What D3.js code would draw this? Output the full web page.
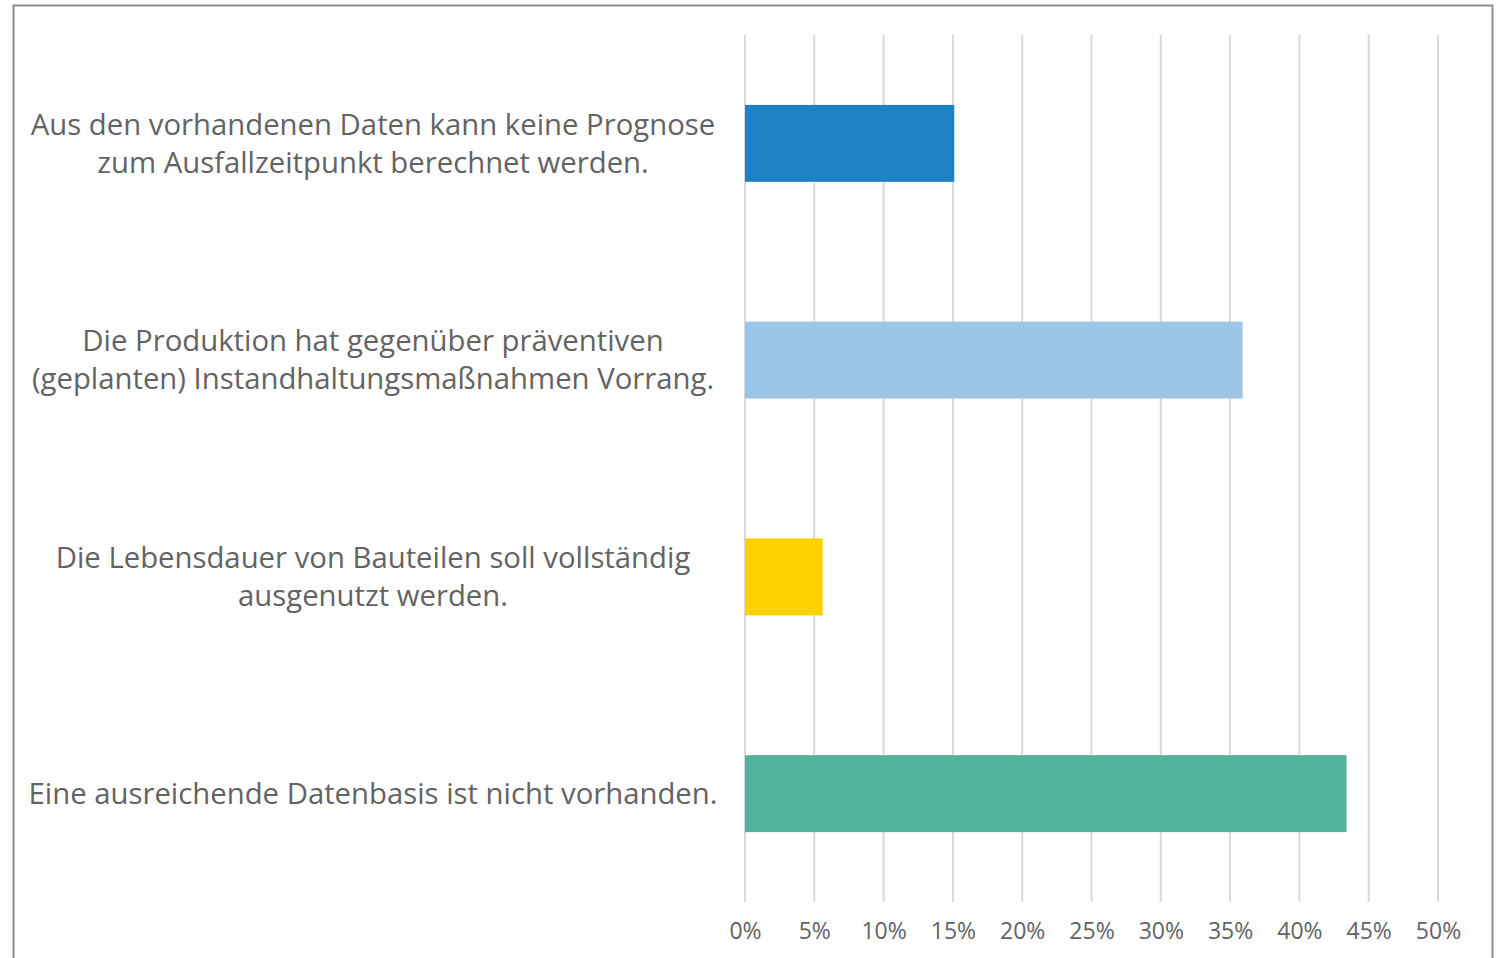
<!DOCTYPE html>
<html>
<head>
<meta charset="utf-8">
<script src="https://cdn.jsdelivr.net/npm/d3@7"></script>
<style>
  body { margin: 0; background: #fff; }
  svg { display: block; }
</style>
</head>
<body>
<div id="chart"></div>
<script>
// Chart data
const categories = [
  ['Aus den vorhandenen Daten kann keine Prognose', 'zum Ausfallzeitpunkt berechnet werden.'],
  ['Die Produktion hat gegenüber präventiven', '(geplanten) Instandhaltungsmaßnahmen Vorrang.'],
  ['Die Lebensdauer von Bauteilen soll vollständig', 'ausgenutzt werden.'],
  ['Eine ausreichende Datenbasis ist nicht vorhanden.']
];
const values = [15.1, 35.9, 5.6, 43.4];
const barColors = ['#1f81c5', '#9dc6e6', '#fed100', '#52b29a'];
const tickValues = [0, 5, 10, 15, 20, 25, 30, 35, 40, 45, 50];

const W = 1506, H = 958;
const plot = { left: 745, right: 1438, top: 35, bottom: 902 };
const labelCenter = 373;

const svg = d3.select('#chart')
  .append('svg')
  .attr('width', W)
  .attr('height', H);

// outer frame
svg.append('rect')
  .attr('x', 13.5)
  .attr('y', 5.5)
  .attr('width', 1479)
  .attr('height', 980)
  .attr('fill', 'none')
  .attr('stroke', '#8e8e8e')
  .attr('stroke-width', 2);

const x = d3.scaleLinear()
  .domain([0, 50])
  .range([plot.left, plot.right]);

const y = d3.scaleBand()
  .domain(d3.range(categories.length))
  .range([plot.top, plot.bottom])
  .paddingInner(0.645)
  .paddingOuter(0.3225);

// gridlines
svg.append('g')
  .selectAll('line')
  .data(tickValues)
  .enter()
  .append('line')
  .attr('x1', d => x(d))
  .attr('x2', d => x(d))
  .attr('y1', plot.top)
  .attr('y2', plot.bottom)
  .attr('stroke', '#d9d9d9')
  .attr('stroke-width', 2);

// bars
svg.append('g')
  .selectAll('rect')
  .data(values)
  .enter()
  .append('rect')
  .attr('x', x(0))
  .attr('y', (_, i) => y(i))
  .attr('width', d => x(d) - x(0))
  .attr('height', y.bandwidth())
  .attr('fill', (_, i) => barColors[i]);

// x axis labels
const xAxis = svg.append('g')
  .attr('transform', `translate(0,${plot.bottom})`)
  .call(d3.axisBottom(x).tickValues(tickValues).tickFormat(d => d + '%').tickSize(0).tickPadding(21));
xAxis.select('.domain').remove();
xAxis.selectAll('text')
  .style('font-family', '"Open Sans", sans-serif')
  .style('font-size', '23px')
  .style('fill', '#636363');

// category labels
const labels = svg.append('g')
  .selectAll('text')
  .data(categories)
  .enter()
  .append('text')
  .attr('text-anchor', 'middle')
  .style('font-family', '"Open Sans", sans-serif')
  .style('font-size', '29.3px')
  .style('fill', '#636363');

const lineH = 38;
labels.each(function(lines, i) {
  const cy = y(i) + y.bandwidth() / 2;
  const y0 = cy - (lines.length - 1) * lineH / 2;
  d3.select(this).selectAll('tspan')
    .data(lines)
    .enter()
    .append('tspan')
    .attr('x', labelCenter)
    .attr('y', (_, j) => y0 + j * lineH)
    .attr('dy', '0.35em')
    .text(d => d);
});
</script>
</body>
</html>
